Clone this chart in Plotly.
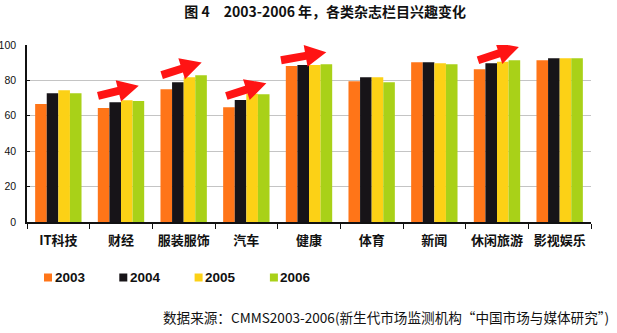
import numpy as np
import plotly.graph_objects as go

categories = ["IT科技", "财经", "服装服饰", "汽车", "健康", "体育", "新闻", "休闲旅游", "影视娱乐"]
years = ["2003", "2004", "2005", "2006"]
v2003 = [66.6, 64.4, 75.0, 64.9, 88.2, 79.5, 90.2, 86.3, 91.4]
v2004 = [72.8, 67.7, 79.0, 68.9, 88.7, 81.8, 90.2, 89.7, 92.5]
v2005 = [74.5, 68.8, 81.8, 72.5, 88.7, 81.8, 89.7, 90.6, 92.5]
v2006 = [72.8, 68.3, 82.9, 72.2, 89.1, 79.0, 89.1, 91.4, 92.5]
series = [v2003, v2004, v2005, v2006]
colors = ["#FF7518", "#171418", "#FCD116", "#A9D118"]
yticks = [0, 20, 40, 60, 80, 100]

# arrows: (category, x offset px from category centre, tail y value, length px, angle deg)
arrows = [("财经", -23, 71.2, 42, 14),
          ("服装服饰", -22, 83.0, 42, 17.6),
          ("汽车", -20, 71.2, 42, 17.6),
          ("健康", -28, 91.4, 46, 10),
          ("休闲旅游", -19, 91.4, 43, 18)]

W, H = 617, 333
L, R, T, B = 27, 26, 45, 111
pw, ph = W - L - R, H - T - B

def px_x(x):
    return (x - L) / pw

def px_y(y):
    return (H - B - y) / ph

fig = go.Figure()
for name, vals, c in zip(years, series, colors):
    fig.add_trace(go.Bar(x=categories, y=vals, name=name, showlegend=False,
                         marker=dict(color=c, line=dict(width=0))))

def arrow_path(dx, length, ang):
    w, Hh, h = 4.0, 11.0, 21.0
    pts = [(0, -w), (length - h, -w), (length - h, -Hh), (length, 0), (length - h, Hh), (length - h, w), (0, w)]
    t = np.radians(ang)
    out = []
    for px, py in pts:
        rx = px * np.cos(t) - py * np.sin(t) + dx
        ry = px * np.sin(t) + py * np.cos(t)
        out.append((rx, ry))
    return "M" + "L".join(f"{a:.2f},{b:.2f}" for a, b in out) + "Z"

for cat, dx, yv, Ln, ang in arrows:
    fig.add_shape(type="path", xref="x", yref="y", xsizemode="pixel", ysizemode="pixel",
                  xanchor=cat, yanchor=yv, path=arrow_path(dx, Ln, ang),
                  fillcolor="#FF1414", line=dict(width=0), layer="above")

# manual legend (square + label)
for i, (name, c) in enumerate(zip(years, colors)):
    x0 = 44 + 75.3 * i
    fig.add_shape(type="rect", xref="paper", yref="paper",
                  x0=px_x(x0), x1=px_x(x0 + 8), y0=px_y(281.5), y1=px_y(273.5),
                  fillcolor=c, line=dict(width=0))
    fig.add_annotation(text=f"<b>{name}</b>", xref="paper", yref="paper",
                       x=px_x(x0 + 8.5), y=px_y(277.5), xanchor="left", yanchor="middle",
                       showarrow=False,
                       font=dict(family="Liberation Sans", size=13.5, color="#111"))

fig.update_layout(
    width=W, height=H,
    margin=dict(l=L, r=R, t=T, b=B, autoexpand=False),
    paper_bgcolor="white", plot_bgcolor="white",
    barmode="group", bargap=0.26, bargroupgap=0,
    showlegend=False,
    title=dict(text="<b>图 4　2003-2006 年，各类杂志栏目兴趣变化</b>", x=0.527, xanchor="center",
               y=0.965, yanchor="middle", yref="container",
               font=dict(family="Noto Sans CJK SC", size=14, color="#111")),
    font=dict(family="Liberation Sans", color="#111"),
)
fig.update_yaxes(range=[0, 100], tickvals=yticks, showgrid=True, gridcolor="#C4C4C4", gridwidth=1,
                 showline=True, linecolor="#111", linewidth=1.5, ticks="inside", ticklen=3,
                 tickcolor="#111", zeroline=False,
                 automargin=False, ticklabelstandoff=7,
                 tickfont=dict(size=10.5, family="Liberation Sans", color="#111"))
fig.update_xaxes(showline=True, linecolor="#111", linewidth=1.5, ticks="outside", tickson="boundaries",
                 ticklen=5, tickcolor="#111", tickwidth=1, automargin=False, ticklabelstandoff=6,
                 tickfont=dict(size=13, family="Noto Sans CJK SC", color="#111"),
                 tickprefix="<b>", ticksuffix="</b>")
fig.add_annotation(text="数据来源：CMMS2003-2006(新生代市场监测机构“中国市场与媒体研究”)",
                   xref="paper", yref="paper", x=px_x(611), y=px_y(317),
                   xanchor="right", yanchor="middle", showarrow=False,
                   font=dict(family="Noto Sans CJK SC", size=13.6, color="#111"))
fig.write_html("out.html")
